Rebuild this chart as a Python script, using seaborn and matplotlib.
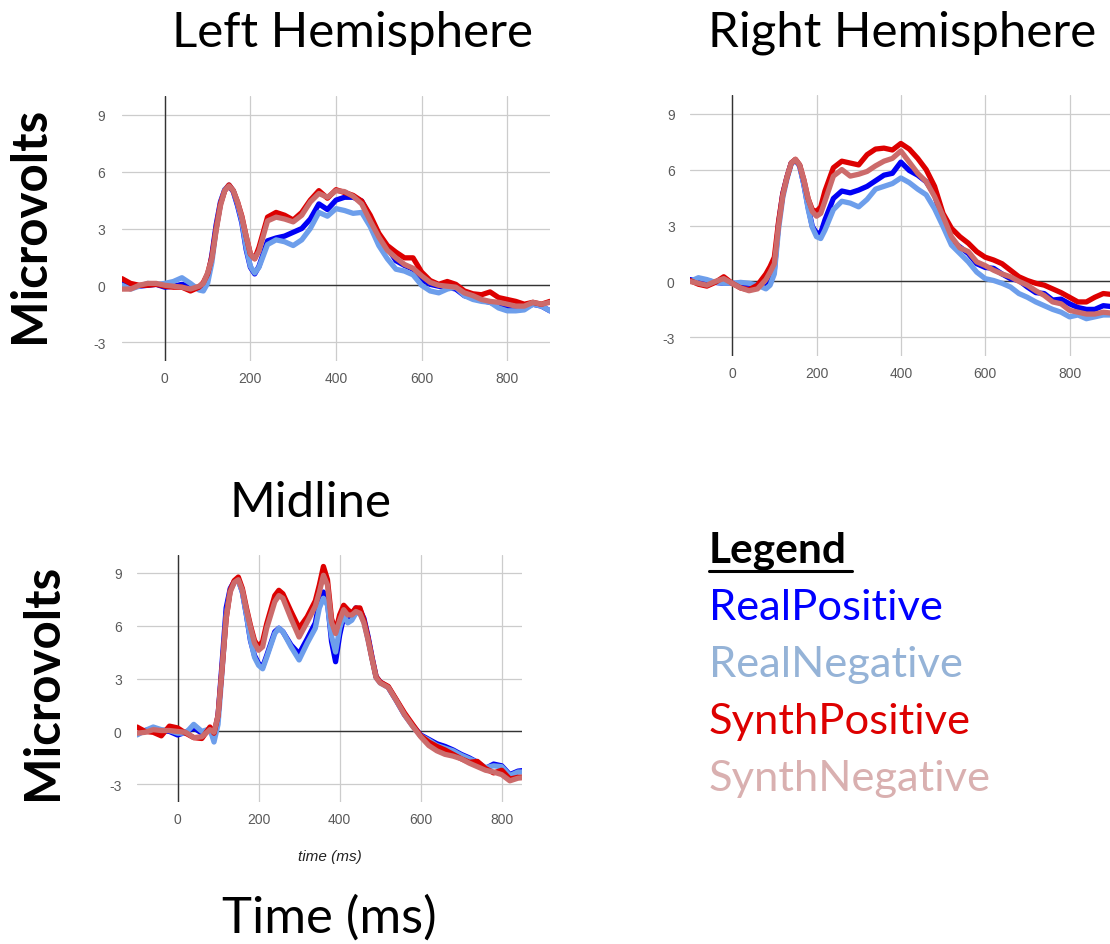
import matplotlib
matplotlib.use("Agg")
import matplotlib.pyplot as plt
import pandas as pd
import seaborn as sns
from matplotlib.lines import Line2D

# ---------------- data ----------------
series_names = ["RealPositive", "RealNegative", "SynthPositive", "SynthNegative"]
line_colors = ["#0000F5", "#6D9EEB", "#DD0000", "#CC6B6B"]
legend_colors = ["#0000FF", "#95B3D7", "#DD0000", "#D9B0B0"]

y_ticks = [-3, 0, 3, 6, 9]
x_ticks = [0, 200, 400, 600, 800]

t_side = [-100, -80, -60, -40, -20, 0, 20, 40, 60, 80, 90, 100, 110, 120, 130, 140,
          150, 160, 170, 180, 190, 200, 210, 220, 240, 260, 280, 300, 320, 340, 360,
          380, 400, 420, 440, 460, 480, 500, 520, 540, 560, 580, 600, 620, 640, 660,
          680, 700, 720, 740, 760, 780, 800, 820, 840, 860, 880, 900]

left_real_pos = [0.1, -0.05, -0.05, 0.0, 0.05, -0.1, -0.05, 0.05, -0.05, -0.2, -0.1, 0.3,
                 1.6, 3.2, 4.4, 5.05, 5.25, 4.95, 4.2, 3.3, 1.9, 0.95, 0.6, 1.0, 2.35, 2.5,
                 2.6, 2.8, 3.0, 3.5, 4.3, 4.0, 4.5, 4.65, 4.65, 4.45, 3.6, 2.5, 2.0, 1.3,
                 1.05, 0.85, 0.3, 0.05, -0.05, -0.1, -0.2, -0.55, -0.65, -0.8, -0.9, -1.05,
                 -1.2, -1.25, -1.2, -1.0, -1.1, -1.35]
left_real_neg = [0.0, -0.2, -0.05, 0.1, 0.05, 0.1, 0.2, 0.4, 0.1, -0.25, -0.3, 0.1,
                 1.2, 3.0, 4.3, 5.05, 5.3, 5.0, 4.3, 3.4, 2.0, 1.0, 0.65, 0.95, 2.15, 2.4,
                 2.3, 2.1, 2.4, 3.0, 3.85, 3.65, 4.05, 3.95, 3.8, 3.85, 3.1, 2.1, 1.4, 0.85,
                 0.75, 0.55, 0.0, -0.3, -0.4, -0.2, -0.1, -0.55, -0.75, -0.85, -0.9, -1.2,
                 -1.35, -1.35, -1.3, -1.0, -1.1, -1.35]
left_synth_pos = [0.35, 0.1, 0.0, 0.0, 0.05, -0.05, -0.1, -0.1, -0.3, -0.1, 0.15, 0.6,
                  1.5, 3.0, 4.3, 5.0, 5.3, 5.0, 4.4, 3.65, 2.6, 1.65, 1.4, 2.0, 3.6, 3.85,
                  3.7, 3.45, 3.85, 4.5, 5.0, 4.6, 5.05, 4.9, 4.75, 4.45, 3.7, 2.75, 2.1, 1.75,
                  1.45, 1.45, 0.7, 0.25, 0.05, 0.2, 0.05, -0.3, -0.45, -0.5, -0.35, -0.65,
                  -0.75, -0.85, -1.0, -0.9, -1.0, -0.85]
left_synth_neg = [-0.2, -0.2, 0.0, 0.1, 0.1, 0.0, -0.05, -0.1, -0.2, -0.05, 0.1, 0.65,
                  1.4, 2.9, 4.2, 5.0, 5.25, 5.0, 4.4, 3.6, 2.6, 1.65, 1.4, 1.8, 3.4, 3.6,
                  3.5, 3.35, 3.7, 4.4, 4.85, 4.65, 5.0, 4.95, 4.7, 4.3, 3.4, 2.55, 1.85, 1.45,
                  1.1, 0.9, 0.5, 0.15, 0.0, -0.05, -0.1, -0.4, -0.55, -0.75, -0.85, -0.9,
                  -1.0, -1.1, -1.1, -0.9, -1.0, -0.9]

right_real_pos = [0.1, 0.0, 0.05, -0.05, -0.1, -0.1, -0.15, -0.15, -0.2, -0.3, -0.05, 0.6,
                  3.1, 4.7, 5.6, 6.35, 6.5, 6.2, 5.2, 4.0, 2.95, 2.6, 2.6, 3.3, 4.45, 4.85,
                  4.75, 4.9, 5.1, 5.4, 5.7, 5.8, 6.4, 5.95, 5.7, 5.35, 4.65, 3.2, 2.2, 1.85,
                  1.5, 0.95, 0.75, 0.7, 0.4, 0.15, 0.05, -0.3, -0.6, -0.65, -1.0, -0.95,
                  -1.2, -1.4, -1.5, -1.5, -1.3, -1.35]
right_real_neg = [0.0, 0.2, 0.1, -0.05, -0.1, -0.1, -0.05, -0.1, -0.2, -0.4, -0.2, 0.4,
                  2.8, 4.5, 5.5, 6.3, 6.5, 6.2, 5.2, 3.9, 2.9, 2.4, 2.3, 2.75, 3.85, 4.3,
                  4.2, 4.0, 4.4, 4.95, 5.1, 5.25, 5.55, 5.3, 4.95, 4.65, 3.9, 2.95, 1.95, 1.5,
                  1.05, 0.5, 0.15, 0.05, -0.1, -0.3, -0.65, -0.85, -1.1, -1.3, -1.5, -1.65,
                  -1.9, -1.8, -2.0, -1.9, -1.8, -1.8]
right_synth_pos = [0.05, -0.15, -0.25, -0.05, 0.25, -0.1, -0.35, -0.45, -0.2, 0.4, 0.8, 1.3,
                   3.2, 4.7, 5.6, 6.35, 6.55, 6.25, 5.45, 4.45, 3.85, 3.75, 4.0, 4.85, 6.1, 6.45,
                   6.35, 6.25, 6.8, 7.1, 7.15, 7.05, 7.4, 7.1, 6.6, 6.0, 5.1, 3.65, 2.85, 2.4,
                   2.05, 1.6, 1.3, 1.15, 0.95, 0.6, 0.25, 0.05, -0.1, -0.2, -0.4, -0.6,
                   -0.85, -1.1, -1.1, -0.85, -0.65, -0.7]
right_synth_neg = [0.0, -0.1, -0.2, 0.0, 0.15, -0.1, -0.35, -0.5, -0.4, 0.1, 0.5, 0.95,
                   3.0, 4.6, 5.6, 6.35, 6.55, 6.25, 5.45, 4.45, 3.75, 3.5, 3.65, 4.3, 5.65, 6.0,
                   5.65, 5.75, 5.9, 6.2, 6.45, 6.6, 7.0, 6.4, 5.8, 5.35, 4.55, 3.5, 2.4, 1.8,
                   1.6, 1.05, 0.85, 0.6, 0.4, 0.25, 0.0, -0.2, -0.5, -0.75, -1.1, -1.2,
                   -1.55, -1.65, -1.75, -1.75, -1.65, -1.7]

t_mid = [-100, -80, -60, -40, -20, 0, 20, 40, 60, 80, 90, 100, 110, 120, 130, 140, 150,
         160, 170, 180, 190, 200, 210, 220, 240, 250, 260, 280, 300, 320, 340, 350, 360,
         370, 380, 390, 400, 410, 420, 430, 440, 450, 460, 470, 480, 490, 500, 520, 540,
         560, 580, 600, 620, 640, 660, 680, 700, 720, 740, 760, 780, 800, 820, 840, 860]

mid_real_pos = [-0.15, 0.05, 0.15, 0.05, 0.0, -0.2, -0.05, 0.2, -0.1, 0.1, -0.4, 0.9,
                3.9, 7.0, 8.1, 8.5, 8.6, 7.9, 6.6, 5.15, 4.3, 3.85, 3.65, 4.3, 5.65, 5.85,
                5.65, 4.9, 4.4, 5.25, 6.15, 7.35, 7.9, 7.35, 5.1, 3.95, 5.45, 6.5, 6.2, 6.6,
                7.0, 6.9, 6.4, 5.4, 4.2, 3.1, 2.8, 2.5, 1.75, 0.95, 0.35, -0.2, -0.45, -0.7,
                -0.85, -1.05, -1.3, -1.5, -1.75, -2.1, -1.85, -1.95, -2.45, -2.25, -2.2]
mid_real_neg = [-0.2, 0.05, 0.25, 0.1, 0.05, -0.1, -0.1, 0.4, 0.0, 0.15, -0.6, 0.4,
                3.4, 6.6, 8.0, 8.45, 8.55, 7.9, 6.6, 5.2, 4.2, 3.75, 3.55, 4.2, 5.55, 5.85,
                5.65, 4.8, 4.05, 5.0, 5.85, 7.0, 7.55, 7.15, 5.4, 4.5, 5.85, 6.6, 6.15, 6.3,
                6.7, 6.7, 6.2, 5.2, 4.1, 3.05, 2.75, 2.5, 1.75, 0.95, 0.3, -0.25, -0.5, -0.8,
                -0.95, -1.1, -1.35, -1.55, -1.75, -2.05, -1.95, -2.0, -2.5, -2.3, -2.3]
mid_synth_pos = [0.25, 0.0, -0.05, -0.25, 0.3, 0.2, -0.1, -0.35, -0.4, 0.25, -0.1, 0.9,
                 3.6, 6.4, 8.0, 8.55, 8.75, 8.1, 7.0, 6.0, 5.15, 4.8, 5.1, 6.1, 7.7, 8.0,
                 7.8, 6.8, 5.85, 6.5, 7.4, 8.3, 9.35, 8.6, 6.4, 5.65, 6.6, 7.15, 6.9, 6.7,
                 7.0, 7.0, 6.3, 5.3, 4.15, 3.1, 2.8, 2.55, 1.8, 1.05, 0.4, -0.25, -0.6, -0.85,
                 -1.05, -1.3, -1.55, -1.75, -1.7, -2.1, -2.35, -2.2, -2.7, -2.6, -2.6]
mid_synth_neg = [-0.1, -0.05, 0.1, 0.05, 0.05, 0.0, -0.05, -0.35, -0.3, 0.1, -0.05, 0.9,
                 3.6, 6.4, 7.9, 8.45, 8.6, 8.0, 6.9, 5.9, 5.0, 4.6, 4.8, 5.85, 7.35, 7.7,
                 7.55, 6.4, 5.35, 6.2, 7.1, 7.9, 8.85, 8.3, 6.2, 5.55, 6.3, 6.9, 6.6, 6.6,
                 6.8, 6.7, 6.15, 5.2, 4.1, 3.05, 2.75, 2.5, 1.75, 0.95, 0.3, -0.3, -0.8, -1.1,
                 -1.3, -1.4, -1.55, -1.8, -2.0, -2.2, -2.3, -2.45, -2.8, -2.65, -2.6]


def make_frame(t, ys):
    rows = []
    for name, vals in zip(series_names, ys):
        for ti, v in zip(t, vals):
            rows.append({"time": ti, "uv": v, "series": name})
    return pd.DataFrame(rows)


df_left = make_frame(t_side, [left_real_pos, left_real_neg, left_synth_pos, left_synth_neg])
df_right = make_frame(t_side, [right_real_pos, right_real_neg, right_synth_pos, right_synth_neg])
df_mid = make_frame(t_mid, [mid_real_pos, mid_real_neg, mid_synth_pos, mid_synth_neg])

# ---------------- figure ----------------
sns.set_style("white")
plt.rcParams["font.family"] = ["Lato", "DejaVu Sans"]
plt.rcParams["text.color"] = "black"
plt.rcParams["axes.unicode_minus"] = False

W, H = 1110, 945
fig = plt.figure(figsize=(W / 100, H / 100), dpi=100)
palette = dict(zip(series_names, line_colors))


def px_axes(x0, y0, x1, y1):
    return fig.add_axes([x0 / W, 1 - y1 / H, (x1 - x0) / W, (y1 - y0) / H])


def style_panel(ax, df, xmax, ypad):
    sns.lineplot(data=df, x="time", y="uv", hue="series", hue_order=series_names,
                 palette=palette, linewidth=3.8, estimator=None, legend=False, ax=ax,
                 zorder=3)
    for ln in ax.get_lines():
        ln.set_solid_joinstyle("round")
        ln.set_solid_capstyle("round")
    ax.set_xlim(-100, xmax)
    ax.set_ylim(-4, 10)
    ax.set_xticks(x_ticks)
    ax.set_yticks(y_ticks)
    ax.grid(True, color="#cccccc", linewidth=0.9)
    ax.axhline(0, color="#333333", linewidth=1.0, zorder=2)
    ax.axvline(0, color="#333333", linewidth=1.0, zorder=2)
    for s in ax.spines.values():
        s.set_visible(False)
    ax.tick_params(axis="both", length=0, labelsize=10, labelcolor="#5a5a5a")
    ax.tick_params(axis="y", pad=ypad)
    ax.tick_params(axis="x", pad=7)
    for lab in ax.get_xticklabels() + ax.get_yticklabels():
        lab.set_fontfamily("Liberation Sans")
    ax.set_xlabel("")
    ax.set_ylabel("")
    ax.set_facecolor("white")


ax_l = px_axes(122, 97, 550, 362)
style_panel(ax_l, df_left, 900, 12)

ax_r = px_axes(690, 96, 1110, 357)
style_panel(ax_r, df_right, 896, 11)

ax_m = px_axes(137, 556, 522, 803)
style_panel(ax_m, df_mid, 850, 11)
ax_m.set_xlabel("time (ms)", fontsize=11, fontstyle="italic", color="#222222",
                family="Liberation Sans", labelpad=17)

# ---------------- figure texts ----------------
def ftext(x, y, s, **kw):
    fig.text(x / W, 1 - y / H, s, **kw)


ftext(352, 33, "Left Hemisphere", fontsize=35.5, ha="center", va="center")
ftext(902, 33, "Right Hemisphere", fontsize=35.5, ha="center", va="center")
ftext(311, 503, "Midline", fontsize=35.5, ha="center", va="center")
ftext(329, 918, "Time (ms)", fontsize=36.5, ha="center", va="center")
ftext(30, 225, "Microvolts", fontsize=35.5, fontweight="bold", rotation=90,
      ha="center", va="center")
ftext(43, 682, "Microvolts", fontsize=35.5, fontweight="bold", rotation=90,
      ha="center", va="center")

ftext(709, 551, "Legend", fontsize=30.5, fontweight="bold", ha="left", va="center")
fig.add_artist(Line2D([709 / W, 852 / W], [1 - 572 / H, 1 - 572 / H],
                      color="black", linewidth=2.2))
legend_y = [608, 665, 722, 779]
for name, col, yy in zip(series_names, legend_colors, legend_y):
    ftext(709, yy, name, fontsize=31.3, color=col, ha="left", va="center")

fig.savefig("out.png", dpi=100, facecolor="white")
